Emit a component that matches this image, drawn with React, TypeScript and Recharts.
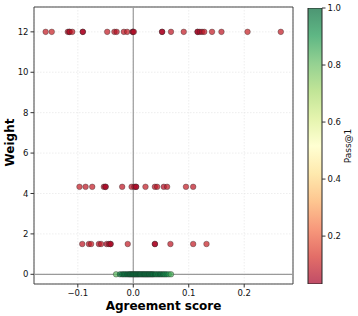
import React from 'react'
import {
  ScatterChart,
  Scatter,
  BarChart,
  Bar,
  XAxis,
  YAxis,
  CartesianGrid,
  ReferenceLine,
  ReferenceArea,
  Label,
} from 'recharts'

// agreement score / pass@1 per weight level
const weightLevels = [0, 1.5, 4.33, 12]

const scoresW0 = [
  -0.031, -0.024, -0.02, -0.017, -0.014, -0.011, -0.008, -0.006, -0.004, -0.002,
  0.0, 0.002, 0.004, 0.006, 0.008, 0.01, 0.012, 0.014, 0.016, 0.018, 0.02, 0.022,
  0.024, 0.026, 0.028, 0.03, 0.032, 0.034, 0.036, 0.039, 0.042, 0.045, 0.048,
  0.051, 0.054, 0.057, 0.06, 0.064, 0.068,
]
const passW0 = [
  0.82, 0.95, 0.97, 0.98, 0.96, 1.0, 0.97, 0.99, 0.95, 1.0, 0.98, 0.97, 1.0, 0.96,
  0.99, 0.98, 1.0, 0.95, 0.97, 0.99, 1.0, 0.96, 0.98, 0.97, 1.0, 0.95, 0.99, 0.97,
  0.98, 1.0, 0.94, 0.97, 0.99, 0.96, 0.98, 0.92, 0.95, 0.9, 0.84,
]

const scoresW1 = [
  -0.092, -0.08, -0.076, -0.062, -0.058, -0.048, -0.044, -0.041, -0.041, -0.01,
  0.039, 0.039, 0.067, 0.108, 0.132,
]
const passW1 = [
  0.08, 0.07, 0.09, 0.06, 0.08, 0.05, 0.07, 0.04, 0.05, 0.09, 0.04, 0.05, 0.08,
  0.09, 0.1,
]

const scoresW4 = [
  -0.097, -0.086, -0.074, -0.053, -0.05, -0.05, -0.02, -0.003, 0.002, 0.005,
  0.005, 0.022, 0.039, 0.043, 0.055, 0.061, 0.095, 0.108,
]
const passW4 = [
  0.09, 0.08, 0.09, 0.06, 0.04, 0.05, 0.08, 0.07, 0.06, 0.04, 0.05, 0.09, 0.07,
  0.08, 0.06, 0.08, 0.09, 0.08,
]

const scoresW12 = [
  -0.158, -0.147, -0.118, -0.115, -0.115, -0.11, -0.091, -0.091, -0.047, -0.034,
  -0.03, -0.017, -0.011, -0.001, -0.001, 0.001, 0.052, 0.052, 0.068, 0.091, 0.116,
  0.116, 0.12, 0.124, 0.128, 0.142, 0.159, 0.206, 0.266,
]
const passW12 = [
  0.09, 0.1, 0.07, 0.05, 0.06, 0.08, 0.04, 0.05, 0.09, 0.08, 0.07, 0.08, 0.09,
  0.04, 0.05, 0.06, 0.04, 0.05, 0.08, 0.09, 0.04, 0.05, 0.05, 0.06, 0.08, 0.09,
  0.08, 0.1, 0.09,
]

const xTicks = [-0.1, 0, 0.1, 0.2]
const yTicks = [0, 2, 4, 6, 8, 10, 12]
const cbarTicks = [0.2, 0.4, 0.6, 0.8, 1.0]
const passMin = 0.032
const passMax = 1.0
const xDomain = [-0.179, 0.288]
const yDomain = [-0.48, 13.23]

// RdYlGn
const RDYLGN = [
  '#a50026', '#d73027', '#f46d43', '#fdae61', '#fee08b', '#ffffbf',
  '#d9ef8b', '#a6d96a', '#66bd63', '#1a9850', '#006837',
]

const hex = (h: string) => [1, 3, 5].map((i) => parseInt(h.slice(i, i + 2), 16))

const cmap = (v: number) => {
  let t = (v - passMin) / (passMax - passMin)
  t = Math.max(0, Math.min(1, t))
  const p = t * (RDYLGN.length - 1)
  const i = Math.min(Math.floor(p), RDYLGN.length - 2)
  const f = p - i
  const a = hex(RDYLGN[i])
  const b = hex(RDYLGN[i + 1])
  const c = a.map((x, k) => Math.round(x + (b[k] - x) * f))
  return `rgb(${c[0]},${c[1]},${c[2]})`
}

const rows = [
  { w: weightLevels[0], s: scoresW0, p: passW0 },
  { w: weightLevels[1], s: scoresW1, p: passW1 },
  { w: weightLevels[2], s: scoresW4, p: passW4 },
  { w: weightLevels[3], s: scoresW12, p: passW12 },
]
// red points first, green on top
const points = rows
  .slice(1)
  .concat(rows.slice(0, 1))
  .flatMap((r) => r.s.map((s, i) => ({ x: s, y: r.w, pass: r.p[i] })))

// colorbar as one ranged bar
const cbarData = [{ name: 'Pass@1', range: [passMin, passMax] }]

const FONT = 'DejaVu Sans'
const tickStyle = { fontSize: 8.5, fill: '#111', fontFamily: FONT }

const Dot = (props: any) => {
  const { cx, cy, payload } = props
  return (
    <circle
      cx={cx}
      cy={cy}
      r={2.8}
      fill={cmap(payload.pass)}
      fillOpacity={0.72}
      stroke="#2a2a2a"
      strokeOpacity={0.75}
      strokeWidth={0.5}
    />
  )
}

const fmtX = (v: number) => (v < 0 ? '\u2212' + Math.abs(v).toFixed(1) : v.toFixed(1))

export default function App() {
  return (
    <div style={{ position: 'absolute', left: 0, top: 0, width: 358, height: 316, background: '#fff' }}>
      <svg width={0} height={0} style={{ position: 'absolute' }}>
        <defs>
          <linearGradient id="rdylgn" x1="0" y1="1" x2="0" y2="0">
            {RDYLGN.map((c, i) => (
              <stop key={i} offset={i / (RDYLGN.length - 1)} stopColor={c} stopOpacity={0.7} />
            ))}
          </linearGradient>
        </defs>
      </svg>
      <div style={{ position: 'absolute', left: 0, top: 0 }}>
        <ScatterChart width={358} height={316} margin={{ top: 7, right: 65, bottom: 12, left: 8 }}>
          <CartesianGrid stroke="#e2e2e2" strokeDasharray="1.5 1.5" strokeWidth={0.6} />
          <XAxis
            type="number"
            dataKey="x"
            domain={xDomain}
            ticks={xTicks}
            tickFormatter={fmtX}
            allowDataOverflow
            height={20}
            tick={tickStyle}
            tickSize={3.5}
            tickLine={{ stroke: '#333' }}
            axisLine={false}
          >
            <Label
              content={(props: any) => {
                const { x, y, width, height } = props.viewBox
                return (
                  <text
                    x={x + width / 2}
                    y={y + height + 6}
                    textAnchor="middle"
                    fontSize={12}
                    fontWeight="bold"
                    fontFamily={FONT}
                    fill="#000"
                  >
                    Agreement score
                  </text>
                )
              }}
            />
          </XAxis>
          <YAxis
            type="number"
            dataKey="y"
            domain={yDomain}
            ticks={yTicks}
            allowDataOverflow
            width={26}
            tick={tickStyle}
            tickSize={3.5}
            tickLine={{ stroke: '#333' }}
            axisLine={false}
          >
            <Label
              content={(props: any) => {
                const { x, y, height } = props.viewBox
                const cx = x + 2
                const cy = y + height / 2 - 3
                return (
                  <text
                    x={cx}
                    y={cy}
                    transform={`rotate(-90, ${cx}, ${cy})`}
                    textAnchor="middle"
                    dominantBaseline="central"
                    fontSize={12}
                    fontWeight="bold"
                    fontFamily={FONT}
                    fill="#000"
                  >
                    Weight
                  </text>
                )
              }}
            />
          </YAxis>
          <ReferenceLine x={0} stroke="#9a9a9a" strokeWidth={1.2} />
          <ReferenceLine y={0} stroke="#9a9a9a" strokeWidth={1.2} />
          <Scatter data={points} shape={Dot} isAnimationActive={false} />
          <ReferenceArea
            x1={xDomain[0]}
            x2={xDomain[1]}
            y1={yDomain[0]}
            y2={yDomain[1]}
            fill="none"
            stroke="#444"
            strokeWidth={1}
            ifOverflow="visible"
          />
        </ScatterChart>
      </div>
      <div style={{ position: 'absolute', left: 0, top: 0 }}>
        <BarChart
          width={358}
          height={316}
          data={cbarData}
          barCategoryGap={0}
          margin={{ top: 8, right: 6, bottom: 32, left: 308 }}
        >
          <XAxis dataKey="name" type="category" hide />
          <YAxis
            type="number"
            orientation="right"
            domain={[passMin, passMax]}
            ticks={cbarTicks}
            tickFormatter={(v: number) => v.toFixed(1)}
            allowDataOverflow
            width={30}
            tick={tickStyle}
            tickSize={3.5}
            tickLine={{ stroke: '#333' }}
            axisLine={false}
          >
            <Label
              content={(props: any) => {
                const { x, y, height } = props.viewBox
                const cx = x + 26
                const cy = y + height / 2
                return (
                  <text
                    x={cx}
                    y={cy}
                    transform={`rotate(-90, ${cx}, ${cy})`}
                    textAnchor="middle"
                    dominantBaseline="central"
                    fontSize={9}
                    fontFamily={FONT}
                    fill="#111"
                  >
                    Pass@1
                  </text>
                )
              }}
            />
          </YAxis>
          <Bar
            dataKey="range"
            fill="url(#rdylgn)"
            stroke="#222"
            strokeWidth={1}
            isAnimationActive={false}
          />
        </BarChart>
      </div>
    </div>
  )
}
